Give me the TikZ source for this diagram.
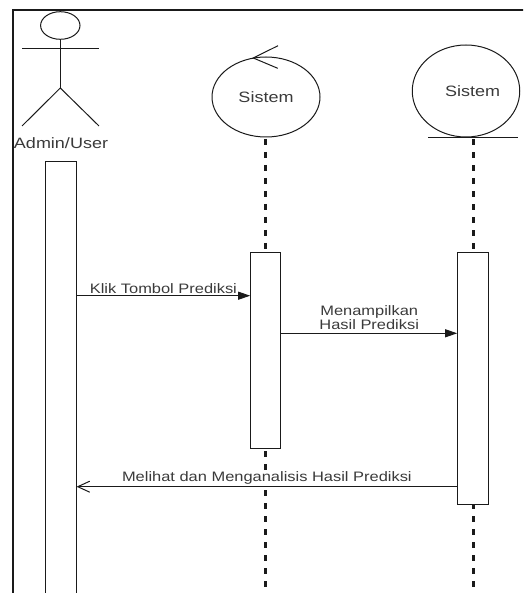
\documentclass[tikz,border=0pt]{standalone}
\usepackage{fontspec}
\setmainfont{Liberation Sans}[FakeStretch=1.2]
\usetikzlibrary{arrows.meta,shapes.geometric}
\definecolor{ink}{HTML}{1A1A1A}
\definecolor{txt}{HTML}{3A3A3A}
\begin{document}
\begin{tikzpicture}[x=1pt,y=-1pt,
  frameline/.style={line width=1.6pt, draw=ink},
  thin/.style={line width=1pt, draw=ink},
  objshape/.style={ellipse, draw=ink, line width=1pt, inner sep=0pt, text=txt, font=\fontsize{15}{17}\selectfont},
  actbox/.style={rectangle, draw=ink, fill=white, line width=1pt, anchor=north, inner sep=0pt},
  lifeline/.style={line width=2.6pt, draw=ink, dash pattern=on 6pt off 7pt},
  lbl/.style={text=txt, font=\fontsize{13.7}{14.6}\selectfont, inner sep=1pt, align=center},
  call/.style={thin, -{Triangle[length=12pt,width=8pt]}},
  reply/.style={thin, -{Straight Barb[length=12pt,width=11pt,line width=1pt]}}]
\useasboundingbox (0,0) rectangle (523,593);
\clip (0,0) rectangle (523,593);

% outer frame (continues past the page edge)
\draw[frameline] (12.7,640) -- (12.7,10) -- (560,10);

% actor stick figure
\node[ellipse, draw=ink, line width=1pt, minimum width=39.4pt, minimum height=27.6pt, inner sep=0pt] (head) at (60.3,25.5) {};
\coordinate (hip) at (60.3,88);
\draw[thin] (head.south) -- (hip);
\draw[thin] (22,49) -- (99,49);
\draw[thin] (22,126) -- (hip) -- (99,126);
\node[text=txt, font=\fontsize{15}{17}\selectfont, inner sep=0pt] (actorname) at (61,143) {Admin/User};

% control object
\node[objshape, minimum width=108pt, minimum height=80pt] (ctl) at (266,97) {Sistem};
\coordinate (ctltip) at (253.3,58);
\draw[thin] (278,45.7) -- (ctltip) -- (277.7,68.3);

% entity object
\node[objshape, minimum width=107.5pt, minimum height=92pt] (ent) at (466,91) {};
\node[text=txt, font=\fontsize{15}{17}\selectfont, inner sep=0pt] (entname) at (472.5,91.5) {Sistem};
\coordinate (entbase) at (473.5,137.3);
\draw[thin] (428,137.3) -- (518,137.3);

% lifelines
\draw[lifeline] (265.7,139) -- (265.7,600);
\draw[lifeline] (entbase) ++(0,2) -- (473.5,600);

% activation bars
\node[actbox, minimum width=30.3pt, minimum height=460pt] (actA) at (60.9,161) {};
\node[actbox, minimum width=30pt, minimum height=196pt] (actC) at (265.7,251.7) {};
\node[actbox, minimum width=31pt, minimum height=252.3pt] (actE) at (473.2,251.7) {};

% messages
\draw[call] (actA.east |- 0,295.7) -- node[lbl, above=1pt] (m1) {Klik Tombol Prediksi} (actC.west |- 0,295.7);
\draw[call] (actC.east |- 0,333.3) -- node[lbl, above=2pt] (m2) {Menampilkan\\Hasil Prediksi} (actE.west |- 0,333.3);
\draw[reply] (actE.west |- 0,486.7) -- node[lbl, above=1pt, fill=white] (m3) {Melihat dan Menganalisis Hasil Prediksi} (actA.east |- 0,486.7);
\end{tikzpicture}
\end{document}
